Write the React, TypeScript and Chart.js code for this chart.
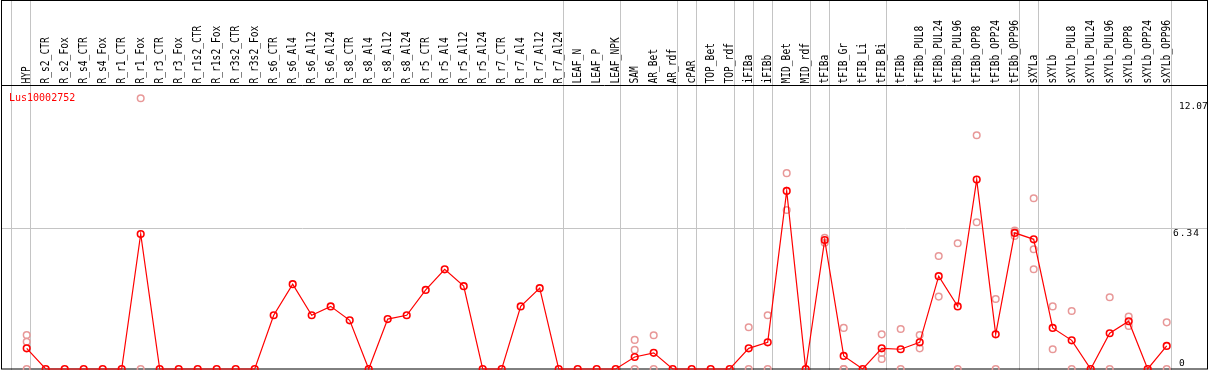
import React, { useEffect, useRef } from "react";
import { Chart, registerables } from "chart.js";

Chart.register(...registerables);

const categories = [
  "HYP", "R_s2_CTR", "R_s2_Fox", "R_s4_CTR", "R_s4_Fox", "R_r1_CTR", "R_r1_Fox", "R_r3_CTR", "R_r3_Fox",
  "R_r1s2_CTR", "R_r1s2_Fox", "R_r3s2_CTR", "R_r3s2_Fox", "R_s6_CTR", "R_s6_Al4", "R_s6_Al12", "R_s6_Al24",
  "R_s8_CTR", "R_s8_Al4", "R_s8_Al12", "R_s8_Al24", "R_r5_CTR", "R_r5_Al4", "R_r5_Al12", "R_r5_Al24",
  "R_r7_CTR", "R_r7_Al4", "R_r7_Al12", "R_r7_Al24", "LEAF_N", "LEAF_P", "LEAF_NPK", "SAM", "AR_Bet", "AR_rdf",
  "cPAR", "TOP_Bet", "TOP_rdf", "iFIBa", "iFIBb", "MID_Bet", "MID_rdf", "tFIBa", "tFIB_Gr", "tFIB_Li", "tFIB_Bi",
  "tFIBb", "tFIBb_PUL8", "tFIBb_PUL24", "tFIBb_PUL96", "tFIBb_OPP8", "tFIBb_OPP24", "tFIBb_OPP96", "sXYLa",
  "sXYLb", "sXYLb_PUL8", "sXYLb_PUL24", "sXYLb_PUL96", "sXYLb_OPP8", "sXYLb_OPP24", "sXYLb_OPP96",
];

const meanValues = [
  0.93, 0, 0, 0, 0, 0, 6.08, 0, 0,
  0, 0, 0, 0, 2.42, 3.82, 2.42, 2.82,
  2.19, 0, 2.25, 2.42, 3.56, 4.49, 3.73, 0,
  0, 2.82, 3.64, 0, 0, 0, 0, 0.54, 0.73, 0,
  0, 0, 0, 0.93, 1.2, 8.02, 0, 5.81, 0.59, 0, 0.93,
  0.89, 1.2, 4.18, 2.82, 8.53, 1.56, 6.13, 5.84,
  1.85, 1.29, 0, 1.61, 2.15, 0, 1.04,
];

const _ = null;
const replicateA = [
  1.53, _, _, _, _, _, 12.19, _, _,
  _, _, _, _, _, _, _, _,
  _, _, _, _, _, _, _, _,
  _, _, _, _, _, _, _, 1.31, 1.52, _,
  _, _, _, 1.88, 2.42, 8.82, _, 5.91, 1.85, _, 1.56,
  1.8, 1.53, 5.09, 5.66, 10.53, 3.15, 6.23, 7.69,
  2.82, 2.61, _, 3.23, 2.36, _, 2.1,
];
const replicateB = [
  1.23, _, _, _, _, _, 0, _, _,
  _, _, _, _, _, _, _, _,
  _, _, _, _, _, _, _, _,
  _, _, _, _, _, _, _, 0.86, 0, _,
  _, _, _, 0, 0, 7.16, _, 5.69, 0, _, 0.72,
  0, 0.93, 3.26, 0, 6.61, 0, 5.99, 5.39,
  0.89, 0, _, 0, 1.94, _, 0,
];
const replicateC = [
  0, _, _, _, _, _, _, _, _,
  _, _, _, _, _, _, _, _,
  _, _, _, _, _, _, _, _,
  _, _, _, _, _, _, _, 0, _, _,
  _, _, _, _, _, _, _, _, 0, _, 0.45,
  _, _, _, _, _, _, _, 4.49,
  _, _, _, _, _, _, _,
];

const groupBoundaries = [-1, 0, 28, 31, 34, 35, 37, 38, 39, 41, 42, 45, 52, 53, 60];
const gridValues = [6.34];
const tickValues = [12.07, 6.34, 0];
const tickLabels = ["12.07", "6.34", "0"];
const geneName = "Lus10002752";

const W = 1209;
const H = 370;

const toPoints = (arr: (number | null)[]) =>
  arr.map((v, i) => (v === null ? null : { x: i, y: v })).filter((p) => p !== null) as { x: number; y: number }[];

const framePlugin = {
  id: "frame",
  beforeDatasetsDraw(chart: any) {
    const { ctx } = chart;
    const xs = chart.scales.x;
    const ys = chart.scales.y;
    ctx.save();
    ctx.strokeStyle = "#c4c4c4";
    ctx.lineWidth = 1;
    groupBoundaries.forEach((b) => {
      const px = Math.round(xs.getPixelForValue(b + 0.2)) + 0.5;
      ctx.beginPath();
      ctx.moveTo(px, 0);
      ctx.lineTo(px, H);
      ctx.stroke();
    });
    gridValues.forEach((g) => {
      const py = Math.round(ys.getPixelForValue(g)) + 0.5;
      ctx.beginPath();
      ctx.moveTo(1, py);
      ctx.lineTo(1207, py);
      ctx.stroke();
    });
    // border + header line
    ctx.strokeStyle = "#000";
    ctx.lineWidth = 1;
    ctx.strokeRect(1.5, 0.5, 1206, 368.5);
    ctx.beginPath();
    ctx.moveTo(1, 85.5);
    ctx.lineTo(1208, 85.5);
    ctx.stroke();

    // column labels
    ctx.fillStyle = "#000";
    ctx.font = "12px 'DejaVu Sans Mono'";
    ctx.textAlign = "left";
    ctx.textBaseline = "alphabetic";
    categories.forEach((c, i) => {
      const px = xs.getPixelForValue(i);
      ctx.save();
      ctx.translate(px + 3, 83.5);
      ctx.rotate(-Math.PI / 2);
      ctx.scale(0.8, 1);
      ctx.fillText(c, 0, 0);
      ctx.restore();
    });

    // tick labels
    ctx.font = "9.5px 'DejaVu Sans Mono'";
    ctx.fillStyle = "#000";
    tickValues.forEach((t, k) => {
      const py = ys.getPixelForValue(t);
      if (k === 0) {
        ctx.fillText(tickLabels[k], 1179, py + 8.5);
      } else if (k === 1) {
        (ctx as any).letterSpacing = "1px";
        ctx.fillText(tickLabels[k], 1173, py + 8);
        (ctx as any).letterSpacing = "0px";
      } else {
        ctx.fillText(tickLabels[k], 1179, py - 3.5);
      }
    });

    // gene name
    ctx.fillStyle = "#ff0000";
    ctx.font = "10px 'DejaVu Sans Mono'";
    ctx.fillText(geneName, 9, 100.5);
    ctx.restore();
  },
};

export default function App() {
  const ref = useRef<HTMLCanvasElement | null>(null);

  useEffect(() => {
    if (!ref.current) return;
    const replicatePoints = [
      ...toPoints(replicateA),
      ...toPoints(replicateB),
      ...toPoints(replicateC),
    ];
    const chart = new Chart(ref.current, {
      type: "line",
      data: {
        datasets: [
          {
            type: "scatter",
            label: "replicates",
            data: replicatePoints,
            showLine: false,
            borderColor: "#e89898",
            backgroundColor: "rgba(0,0,0,0)",
            pointRadius: 3.3,
            pointBorderWidth: 1.5,
            pointHoverRadius: 3.3,
            order: 2,
            clip: false,
          } as any,
          {
            type: "line",
            label: "mean",
            data: meanValues.map((v, i) => ({ x: i, y: v })),
            borderColor: "#ff0000",
            borderWidth: 1.2,
            backgroundColor: "rgba(0,0,0,0)",
            pointRadius: 3.3,
            pointBorderWidth: 1.6,
            pointBorderColor: "#ff0000",
            pointBackgroundColor: "rgba(0,0,0,0)",
            tension: 0,
            order: 1,
            clip: false,
          } as any,
        ],
      },
      options: {
        animation: false,
        responsive: false,
        devicePixelRatio: 1,
        layout: { autoPadding: false, padding: { left: 1, right: 2, top: 85, bottom: 1 } },
        scales: {
          x: { type: "linear", display: false, min: -1.3526, max: 62.121 },
          y: { type: "linear", display: false, min: 0, max: 12.79 },
        },
        plugins: {
          legend: { display: false },
          tooltip: { enabled: false },
        },
        events: [],
      },
      plugins: [framePlugin],
    });
    return () => chart.destroy();
  }, []);

  return (
    <div style={{ position: "absolute", left: 0, top: 0, width: W, height: H, background: "#fff" }}>
      <canvas ref={ref} width={W} height={H} style={{ display: "block", width: W, height: H }} />
    </div>
  );
}
